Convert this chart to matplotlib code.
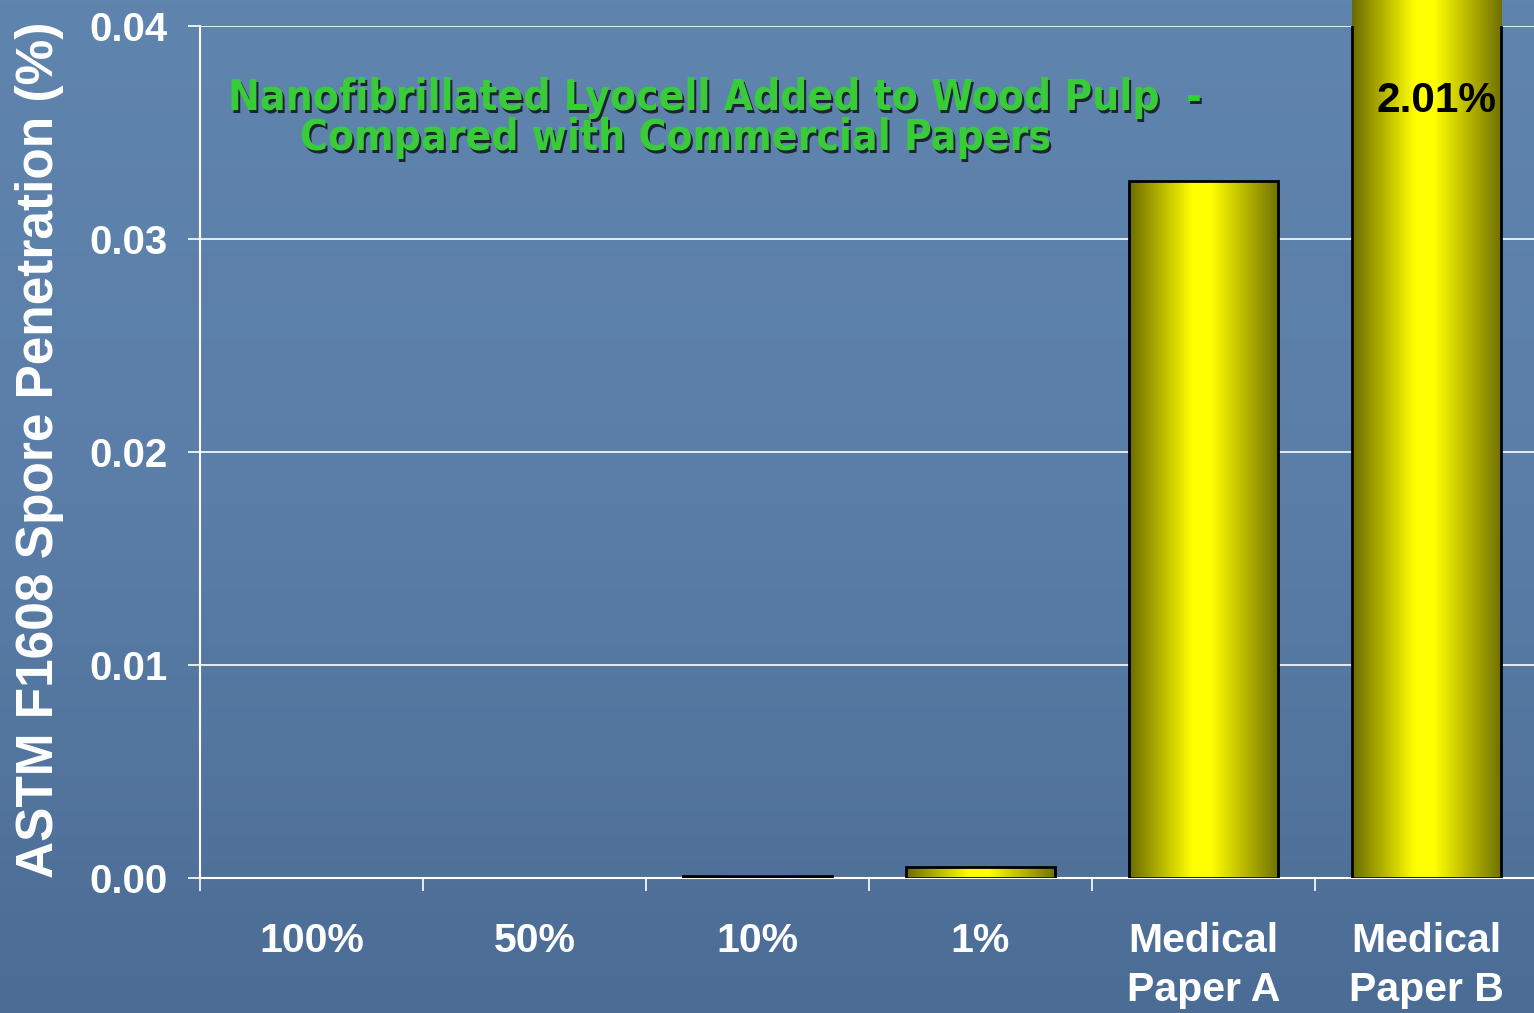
import numpy as np
import matplotlib.pyplot as plt
from matplotlib.colors import LinearSegmentedColormap

plt.close("all")

# Datos: penetracion de esporas ASTM F1608
categorias = ['100%', '50%', '10%', '1%', 'Medical\nPaper A', 'Medical\nPaper B']
penetracion = [0.0, 0.0, 0.0001, 0.0005, 0.0327, 2.01]
y_ticks = [0.00, 0.01, 0.02, 0.03, 0.04]

titulo_1 = 'Nanofibrillated Lyocell Added to Wood Pulp  -'
titulo_2 = 'Compared with Commercial Papers'
etiqueta_y = 'ASTM F1608 Spore Penetration (%)'

W, H = 1534, 1013
fig = plt.figure(figsize=(W / 100, H / 100), dpi=100)

# Fondo azul con degradado vertical
bg = fig.add_axes([0, 0, 1, 1], zorder=-10)
fondo = LinearSegmentedColormap.from_list('fondo', ['#4b6c94', '#5a7ea8', '#5f84ae'])
bg.imshow(np.linspace(1, 0, 256).reshape(-1, 1), aspect='auto', cmap=fondo,
          extent=[0, 1, 0, 1])
bg.axis('off')

ax = fig.add_axes([200 / W, (H - 878) / H, 1338 / W, 852 / H])
ax.set_facecolor('none')

x = np.arange(len(categorias))
ancho = 0.67
barras = ax.bar(x, penetracion, width=ancho, facecolor='none', edgecolor='black',
                linewidth=2, zorder=3)

# Relleno degradado horizontal (oliva - amarillo - oliva)
amarillo = LinearSegmentedColormap.from_list(
    'amarillo', [(0, '#6b6b00'), (0.42, '#ffff00'), (0.55, '#ffff00'), (1, '#707000')])
grad = np.linspace(0, 1, 256).reshape(1, -1)
for xi, val, b in zip(x, penetracion, barras):
    if val == 0:
        b.set_linewidth(0)
        continue
    im = ax.imshow(grad, cmap=amarillo, aspect='auto', zorder=2,
                   extent=[xi - ancho / 2, xi + ancho / 2, 0, val])
    im.set_clip_path(b)
    im.set_clip_box(fig.bbox)

ax.set_xlim(-0.5, len(categorias) - 0.5)
ax.set_ylim(0, 0.04)

# Ejes y grilla
ax.set_yticks(y_ticks)
ax.set_yticklabels([f'{v:.2f}' for v in y_ticks])
ax.yaxis.grid(True, color='white', linewidth=1.2)
ax.set_axisbelow(True)
for s in ['top', 'right']:
    ax.spines[s].set_visible(False)
for s in ['left', 'bottom']:
    ax.spines[s].set_color('white')
    ax.spines[s].set_linewidth(1.5)

ax.set_xticks(x)
ax.set_xticklabels(categorias)
ax.set_xticks(np.arange(len(categorias) + 1) - 0.5, minor=True)
ax.tick_params(axis='x', which='major', length=0, pad=32, colors='white')
ax.tick_params(axis='x', which='minor', length=9, width=1.2, color='white')
ax.tick_params(axis='y', length=9, width=1.2, color='white', colors='white', pad=14)
for lab in ax.get_xticklabels():
    lab.set_fontsize(29.5)
    lab.set_fontweight('bold')
    lab.set_family('Liberation Sans')
    lab.set_linespacing(1.35)
for lab in ax.get_yticklabels():
    lab.set_fontsize(29)
    lab.set_fontweight('bold')
    lab.set_family('Liberation Sans')

# Etiqueta del valor fuera de escala
ax.text(x[5] + 0.045, 0.0365, f'{penetracion[5]:.2f}%', ha='center', va='center',
        fontsize=30.5, fontweight='bold', family='Liberation Sans', color='black',
        zorder=5)

fig.text(40 / W, 1 - 450 / H, etiqueta_y, rotation=90, ha='center', va='center',
         fontsize=37, fontweight='bold', family='Liberation Sans', color='white')

# Titulo verde con sombra
kw = dict(fontsize=30.4, fontweight='bold', family='DejaVu Sans', stretch='condensed',
          color='#39cc39', ha='left', va='center')
for tx, ty, txt in [(228, 98, titulo_1), (300, 138, titulo_2)]:
    fig.text(tx / W + 2.5 / W, 1 - ty / H - 2.5 / H, txt, **{**kw, 'color': '#1c2430'})
    fig.text(tx / W, 1 - ty / H, txt, **kw)

fig.savefig('out.png', dpi=100)
